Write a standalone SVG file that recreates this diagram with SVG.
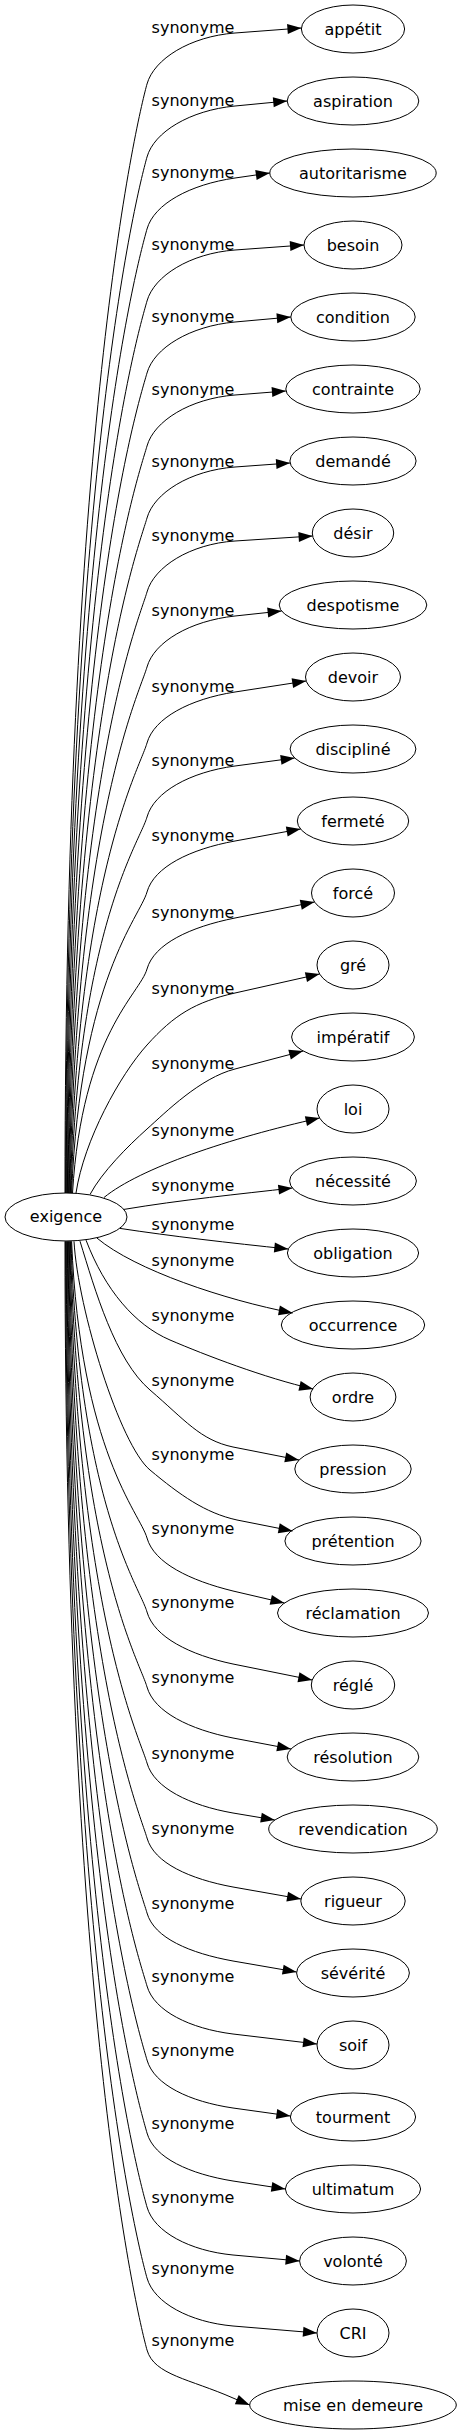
<svg xmlns="http://www.w3.org/2000/svg" width="460" height="2435" viewBox="0 0 460 2435">
<style>
text{font-family:"DejaVu Sans",sans-serif;font-size:16px;fill:#000;text-anchor:middle}
ellipse{fill:none;stroke:#000;stroke-width:1}
#edges path{fill:none;stroke:#000;stroke-width:1;marker-end:url(#ah)}
</style>
<defs>
<marker id="ah" markerUnits="userSpaceOnUse" markerWidth="15" markerHeight="12" viewBox="0 0 15 12" refX="14" refY="6" orient="auto" overflow="visible"><path d="M0,1 L14,6 L0,11 Z" fill="#000" stroke="none"/></marker>
</defs>
<rect width="460" height="2435" fill="#fff"/>
<g id="edges">
<path d="M65,1193 C65,406 140,109 147,84 S190,36.4 235,33 L301.4,28"/><text x="193" y="33">synonyme</text>
<path d="M65.6,1193 C66.4,457.4 140,182 147,157 S190,110.3 235,106 L287.2,101"/><text x="193" y="106">synonyme</text>
<path d="M66.2,1193 C67.8,508.6 140,254 147,229 S190,184.5 235,178 L269.8,173"/><text x="193" y="178">synonyme</text>
<path d="M66.8,1193 C69.1,559.7 140,326 147,301 S190,253.3 235,250 L304,245"/><text x="193" y="250">synonyme</text>
<path d="M67.4,1193 C70.5,610.8 140,398 147,373 S190,326 235,322 L290.8,317"/><text x="193" y="322">synonyme</text>
<path d="M68,1193 C71.9,662.6 140,471 147,446 S190,398.5 235,395 L285.9,391"/><text x="193" y="395">synonyme</text>
<path d="M68.6,1193 C73.3,713.7 140,543 147,518 S190,470.3 235,467 L290.1,463"/><text x="193" y="467">synonyme</text>
<path d="M69.2,1193 C74.7,766.3 140,617 147,592 S190,543.9 235,541 L312.6,536"/><text x="193" y="541">synonyme</text>
<path d="M69.8,1193 C76.1,819.5 140,692 147,667 S190,620.8 235,616 L281.6,611"/><text x="193" y="616">synonyme</text>
<path d="M70.4,1193 C77.5,873.5 140,768 147,743 S190,699 235,692 L306.2,681"/><text x="193" y="692">synonyme</text>
<path d="M71,1193 C78.9,926 140,842 147,817 S190,772 235,766 L294.7,758"/><text x="193" y="766">synonyme</text>
<path d="M71.6,1193 C80.3,979.3 140,917 147,892 S190,849.2 235,841 L300.5,829"/><text x="193" y="841">synonyme</text>
<path d="M72.5,1193 C82.1,1034 140,994 147,969 S190,927 235,918 L314.5,902"/><text x="193" y="918">synonyme</text>
<path d="M76,1193 C84,1140 120,1075 147,1045 S195,1002 235,993 L319.6,974"/><text x="193" y="994">synonyme</text>
<path d="M90,1194.5 C102,1172 128,1146 147,1129 S200,1078 235,1069 L303.1,1051"/><text x="193" y="1069">synonyme</text>
<path d="M104,1197.5 C140,1168 230,1138 319.6,1118"/><text x="193" y="1136">synonyme</text>
<path d="M124,1209.4 C180,1200 240,1194 292.4,1188"/><text x="193" y="1191">synonyme</text>
<path d="M120,1228.4 C170,1236 230,1243 288.3,1249"/><text x="193" y="1230">synonyme</text>
<path d="M97,1238.1 C135,1270 225,1300 292.7,1313"/><text x="193" y="1266">synonyme</text>
<path d="M86,1240.1 C105,1290 135,1325 170,1340 S265,1378 313.2,1389"/><text x="193" y="1321">synonyme</text>
<path d="M80,1241.2 C95,1290 115,1360 150,1390 S200,1440 233,1447 L299,1460"/><text x="193" y="1386">synonyme</text>
<path d="M74,1241.3 C78,1310 120,1445 150,1470 S205,1513 237,1520 L292.5,1531"/><text x="193" y="1460">synonyme</text>
<path d="M71.6,1241.3 C80.4,1451.9 140,1513 147,1538 S190,1580.5 233,1591 L284.4,1603"/><text x="193" y="1534">synonyme</text>
<path d="M71,1241.3 C79,1504.4 140,1587 147,1612 S190,1655 233,1664 L312.2,1680"/><text x="193" y="1608">synonyme</text>
<path d="M70.4,1241.3 C77.6,1557.7 140,1662 147,1687 S190,1729.5 233,1738 L291,1749"/><text x="193" y="1683">synonyme</text>
<path d="M69.8,1241.3 C76.2,1611.6 140,1738 147,1763 S190,1805.5 233,1813 L274.8,1820"/><text x="193" y="1759">synonyme</text>
<path d="M69.2,1241.3 C74.7,1664.9 140,1813 147,1838 S190,1879.1 233,1887 L301,1899"/><text x="193" y="1834">synonyme</text>
<path d="M68.6,1241.3 C73.3,1718.1 140,1888 147,1913 S190,1953.2 233,1961 L296.6,1972"/><text x="193" y="1909">synonyme</text>
<path d="M68,1241.3 C71.9,1770 140,1961 147,1986 S190,2028.6 233,2034 L317,2044"/><text x="193" y="1982">synonyme</text>
<path d="M67.4,1241.3 C70.5,1822.5 140,2035 147,2060 S190,2101.7 233,2108 L290.4,2116"/><text x="193" y="2056">synonyme</text>
<path d="M66.8,1241.3 C69.1,1874.3 140,2108 147,2133 S190,2174.1 233,2181 L285.4,2189"/><text x="193" y="2129">synonyme</text>
<path d="M66.2,1241.3 C67.7,1926.9 140,2182 147,2207 S190,2250.9 233,2255 L299.6,2261"/><text x="193" y="2203">synonyme</text>
<path d="M65.6,1241.3 C66.4,1977.3 140,2253 147,2278 S190,2322.2 233,2326 L317,2333"/><text x="193" y="2274">synonyme</text>
<path d="M65,1241.3 C65,2028.4 140,2325 147,2350 S190,2379 233,2398 L249.7,2405"/><text x="193" y="2346">synonyme</text>
</g>
<g id="node-exigence"><ellipse cx="66" cy="1217" rx="61" ry="24"/><text x="66" y="1222">exigence</text></g>
<g id="node-appetit"><ellipse cx="353" cy="29" rx="51.6" ry="24"/><text x="353" y="34.5">appétit</text></g>
<g id="node-aspiration"><ellipse cx="353" cy="101" rx="65.8" ry="24"/><text x="353" y="106.5">aspiration</text></g>
<g id="node-autoritarisme"><ellipse cx="353" cy="173" rx="83.2" ry="24"/><text x="353" y="178.5">autoritarisme</text></g>
<g id="node-besoin"><ellipse cx="353" cy="245" rx="49" ry="24"/><text x="353" y="250.5">besoin</text></g>
<g id="node-condition"><ellipse cx="353" cy="317" rx="62.2" ry="24"/><text x="353" y="322.5">condition</text></g>
<g id="node-contrainte"><ellipse cx="353" cy="389" rx="67.2" ry="24"/><text x="353" y="394.5">contrainte</text></g>
<g id="node-demande"><ellipse cx="353" cy="461" rx="63.1" ry="24"/><text x="353" y="466.5">demandé</text></g>
<g id="node-desir"><ellipse cx="353" cy="533" rx="40.7" ry="24"/><text x="353" y="538.5">désir</text></g>
<g id="node-despotisme"><ellipse cx="353" cy="605" rx="73.8" ry="24"/><text x="353" y="610.5">despotisme</text></g>
<g id="node-devoir"><ellipse cx="353" cy="677" rx="47.5" ry="24"/><text x="353" y="682.5">devoir</text></g>
<g id="node-discipline"><ellipse cx="353" cy="749" rx="62.9" ry="24"/><text x="353" y="754.5">discipliné</text></g>
<g id="node-fermete"><ellipse cx="353" cy="821" rx="55.7" ry="24"/><text x="353" y="826.5">fermeté</text></g>
<g id="node-force"><ellipse cx="353" cy="893" rx="41.5" ry="24"/><text x="353" y="898.5">forcé</text></g>
<g id="node-gre"><ellipse cx="353" cy="965" rx="36" ry="24"/><text x="353" y="970.5">gré</text></g>
<g id="node-imperatif"><ellipse cx="353" cy="1037" rx="61.4" ry="24"/><text x="353" y="1042.5">impératif</text></g>
<g id="node-loi"><ellipse cx="353" cy="1109" rx="36" ry="24"/><text x="353" y="1114.5">loi</text></g>
<g id="node-necessite"><ellipse cx="353" cy="1181" rx="63.4" ry="24"/><text x="353" y="1186.5">nécessité</text></g>
<g id="node-obligation"><ellipse cx="353" cy="1253" rx="65.6" ry="24"/><text x="353" y="1258.5">obligation</text></g>
<g id="node-occurrence"><ellipse cx="353" cy="1325" rx="71.7" ry="24"/><text x="353" y="1330.5">occurrence</text></g>
<g id="node-ordre"><ellipse cx="353" cy="1397" rx="42.9" ry="24"/><text x="353" y="1402.5">ordre</text></g>
<g id="node-pression"><ellipse cx="353" cy="1469" rx="58.2" ry="24"/><text x="353" y="1474.5">pression</text></g>
<g id="node-pretention"><ellipse cx="353" cy="1541" rx="68.1" ry="24"/><text x="353" y="1546.5">prétention</text></g>
<g id="node-reclamation"><ellipse cx="353" cy="1613" rx="75.5" ry="24"/><text x="353" y="1618.5">réclamation</text></g>
<g id="node-regle"><ellipse cx="353" cy="1685" rx="41.7" ry="24"/><text x="353" y="1690.5">réglé</text></g>
<g id="node-resolution"><ellipse cx="353" cy="1757" rx="65.8" ry="24"/><text x="353" y="1762.5">résolution</text></g>
<g id="node-revendication"><ellipse cx="353" cy="1829" rx="84.3" ry="24"/><text x="353" y="1834.5">revendication</text></g>
<g id="node-rigueur"><ellipse cx="353" cy="1901" rx="52.2" ry="24"/><text x="353" y="1906.5">rigueur</text></g>
<g id="node-severite"><ellipse cx="353" cy="1973" rx="56.4" ry="24"/><text x="353" y="1978.5">sévérité</text></g>
<g id="node-soif"><ellipse cx="353" cy="2045" rx="36" ry="24"/><text x="353" y="2050.5">soif</text></g>
<g id="node-tourment"><ellipse cx="353" cy="2117" rx="62.6" ry="24"/><text x="353" y="2122.5">tourment</text></g>
<g id="node-ultimatum"><ellipse cx="353" cy="2189" rx="67.6" ry="24"/><text x="353" y="2194.5">ultimatum</text></g>
<g id="node-volonte"><ellipse cx="353" cy="2261" rx="53.4" ry="24"/><text x="353" y="2266.5">volonté</text></g>
<g id="node-cri"><ellipse cx="353" cy="2333" rx="36" ry="24"/><text x="353" y="2338.5">CRI</text></g>
<g id="node-mise-en-demeure"><ellipse cx="353" cy="2405" rx="103.3" ry="24"/><text x="353" y="2410.5">mise en demeure</text></g>
</svg>
